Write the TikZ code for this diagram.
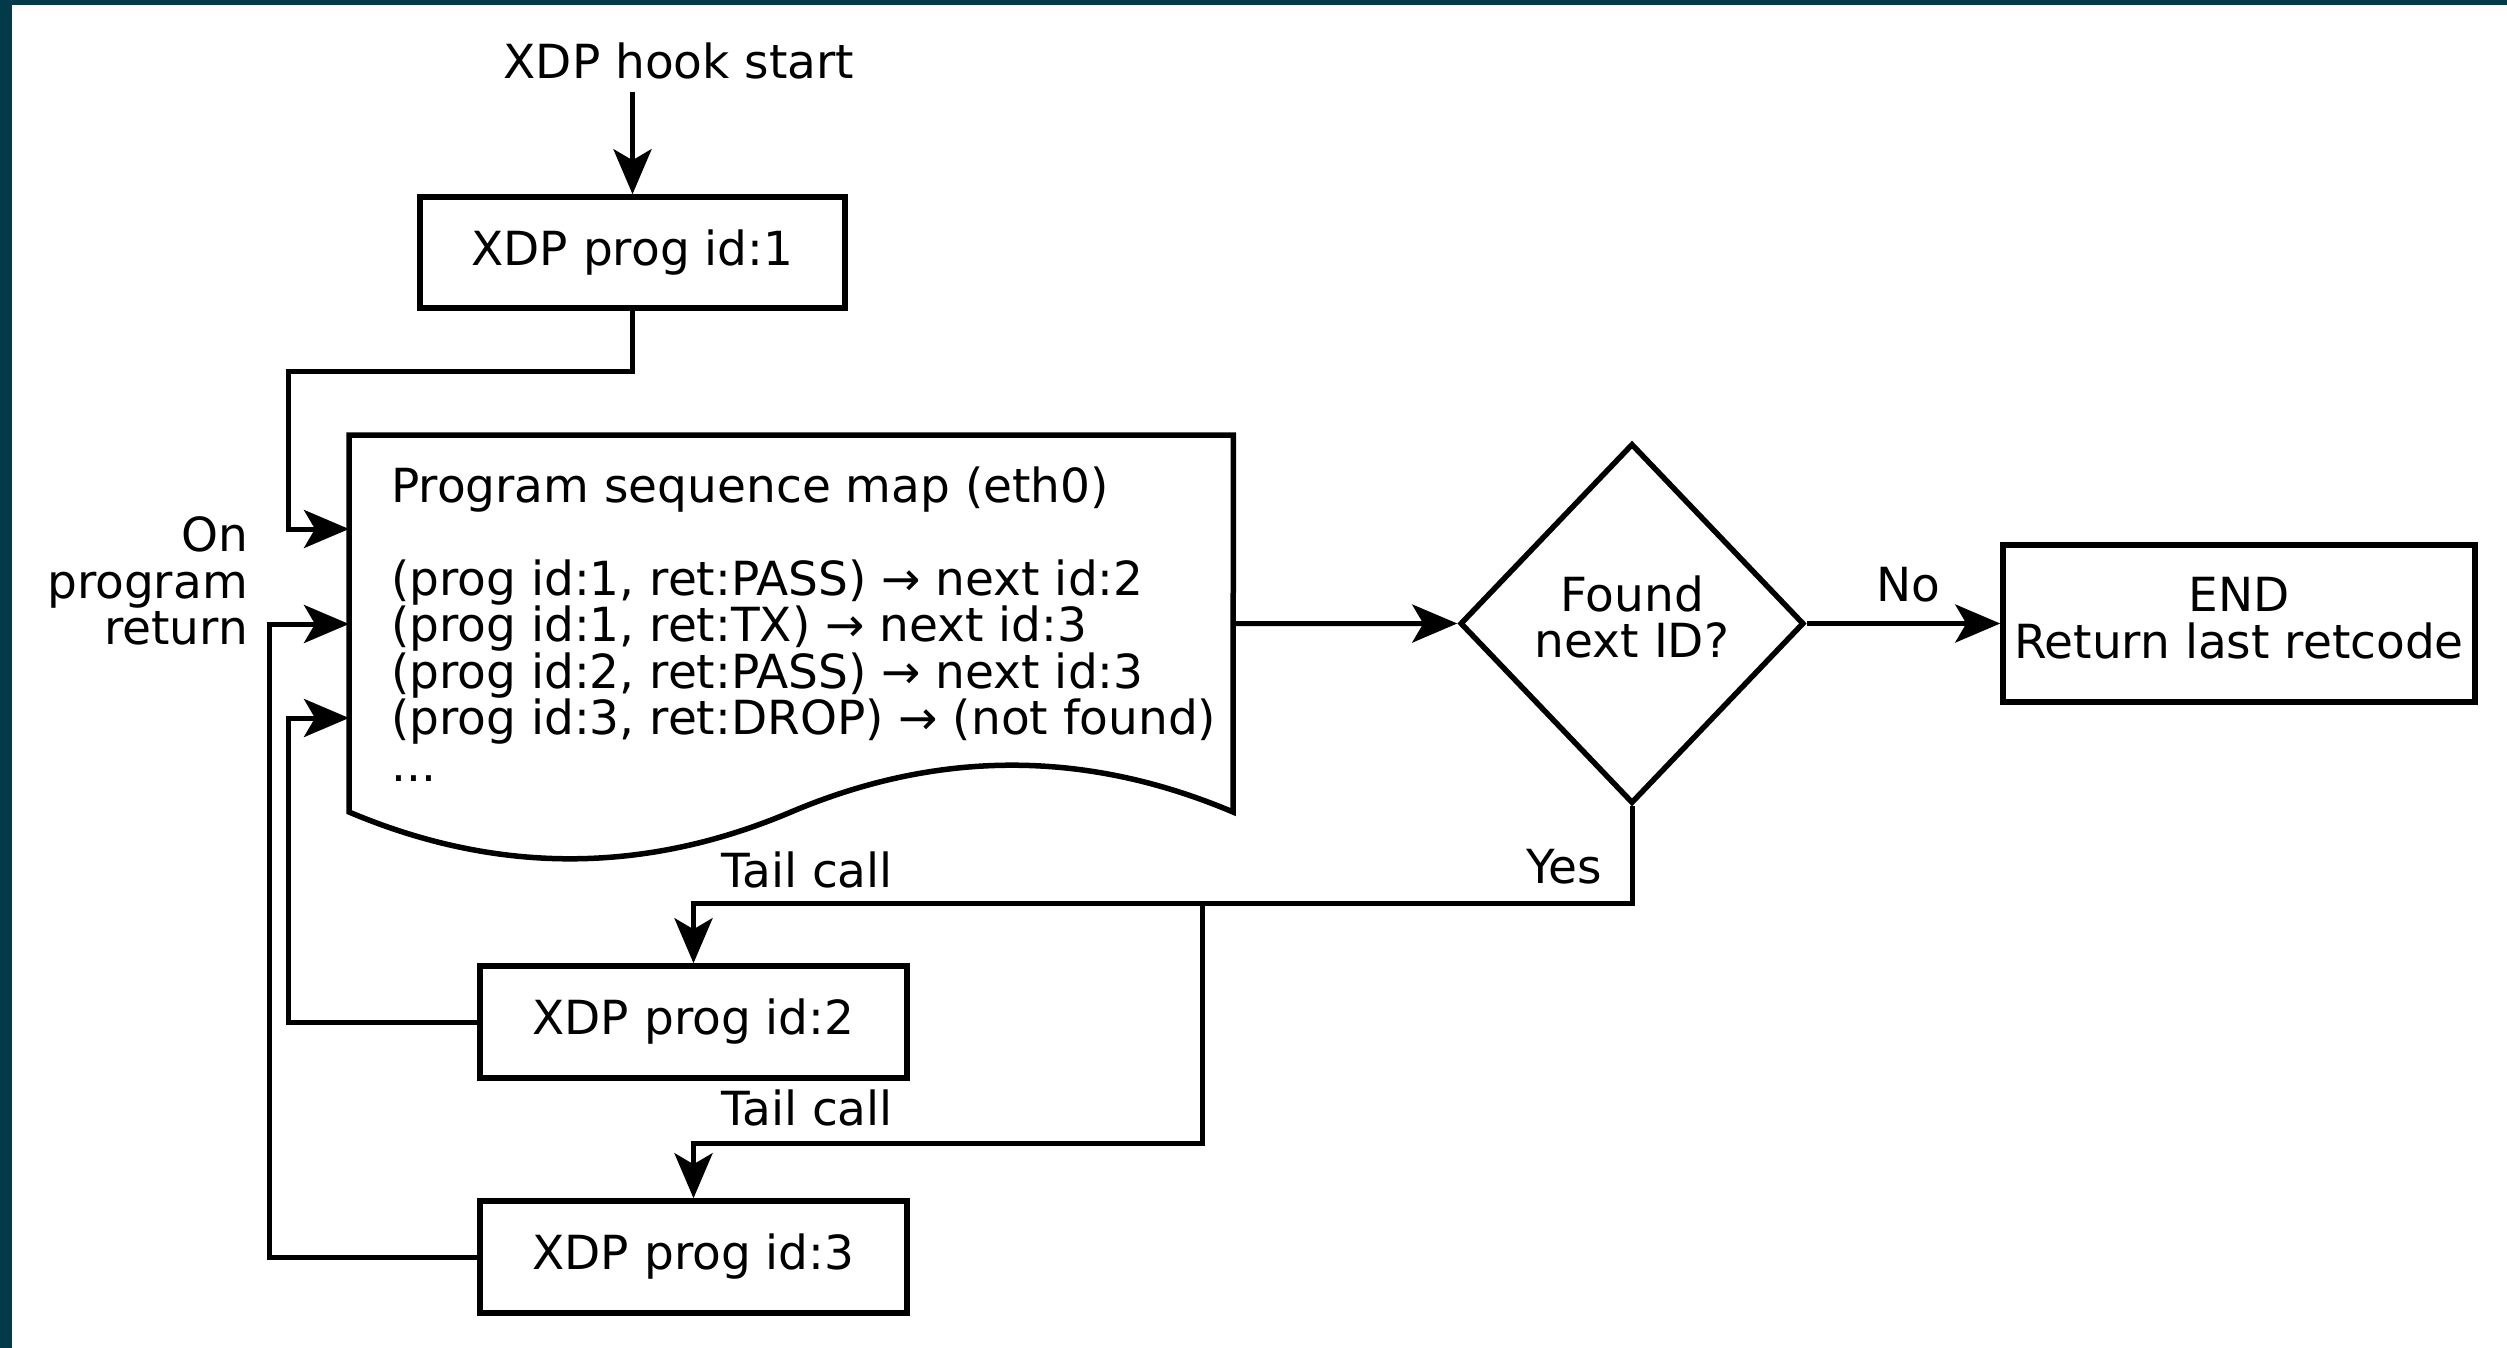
\documentclass[tikz,border=0pt]{standalone}
\usepackage{fontspec}
\setmainfont{DejaVu Sans}
\usetikzlibrary{arrows.meta,shapes.geometric,calc}
\definecolor{frameblue}{RGB}{3,58,74}
\begin{document}
\begin{tikzpicture}[x=1pt,y=-1pt,
  every node/.style={font=\fontsize{47}{46.5}\selectfont, inner sep=0pt},
  box/.style={draw, line width=5.5pt, rectangle},
  conn/.style={line width=5pt},
  arr/.style={conn, -{Stealth[length=45pt,width=38pt,inset=11pt]}}]
\useasboundingbox (0,0) rectangle (2507,1348);
\fill[white] (0,0) rectangle (2507,1348);
\fill[frameblue] (0,0) rectangle (12,1348);
\fill[frameblue] (0,0) rectangle (2507,5);

% nodes
\node (hook) at (679,61) {XDP hook start};
\coordinate (hookend) at (632.5,92);
\node[box, minimum width=425pt, minimum height=111pt] (p1) at (632.5,252.5) {XDP prog id:1};

\node[minimum width=884pt, minimum height=377pt, anchor=north west] (map) at (349,435) {};
\draw[line width=5.5pt] (map.north west) -- (map.north east) -- (1233,812)
  .. controls (1085.7,749.6) and (938.3,749.6) .. (791,812)
  .. controls (643.7,874.4) and (496.3,874.4) .. (349,812) -- cycle;
\node[anchor=base west] (maptext) at (391,502) {\vtop{\baselineskip=46.5pt\lineskiplimit=-100pt\lineskip=0pt
\hbox{Program sequence map (eth0)}\hbox{}
\hbox{(prog id:1, ret:PASS) → next id:2}
\hbox{(prog id:1, ret:TX) → next id:3}
\hbox{(prog id:2, ret:PASS) → next id:3}
\hbox{(prog id:3, ret:DROP) → (not found)}
\hbox{...}}};

\node[draw, diamond, line width=5.5pt, minimum width=344pt, minimum height=360pt] (dec) at (1632,623.5) {};
\node[align=center] (dectext) at (1632,617) {Found\\next ID?};
\node[box, minimum width=472pt, minimum height=157pt] (end) at (2239,623.5) {};
\node[align=center] (endtext) at (2239,618) {END\\Return last retcode};

\node[box, minimum width=427pt, minimum height=112pt] (p2) at (693.5,1022) {XDP prog id:2};
\node[box, minimum width=427pt, minimum height=112pt] (p3) at (693.5,1257) {XDP prog id:3};

% labels
\node[align=right, anchor=east] (onret) at (248,581) {On\\program\\return};
\node (no) at (1908,585) {No};
\node (yes) at (1564,867) {Yes};
\node (tc1) at (807,870) {Tail call};
\node (tc2) at (807,1108) {Tail call};

% helper coordinates
\coordinate (r1) at (288,529);
\coordinate (r2) at (288,718);
\coordinate (r3) at (269,624);
\coordinate (split) at (1202,903);
\coordinate (bend3) at (1202,1143);

% connectors
\draw[arr] (hookend) -- (p1.north);
\draw[arr] (p1.south) -- ++(0,61) -| (r1) -- (map.west |- r1);
\draw[arr] (map.east) -- (dec.west);
\draw[arr] (dec.east) -- (end.west);
\draw[arr] (dec.south) -- (dec.south |- split) -| (p2.north);
\draw[arr] (split) -- (bend3) -| (p3.north);
\draw[arr] (p2.west) -| (r2) -- (map.west |- r2);
\draw[arr] (p3.west) -| (r3) -- (map.west |- r3);
\end{tikzpicture}
\end{document}
